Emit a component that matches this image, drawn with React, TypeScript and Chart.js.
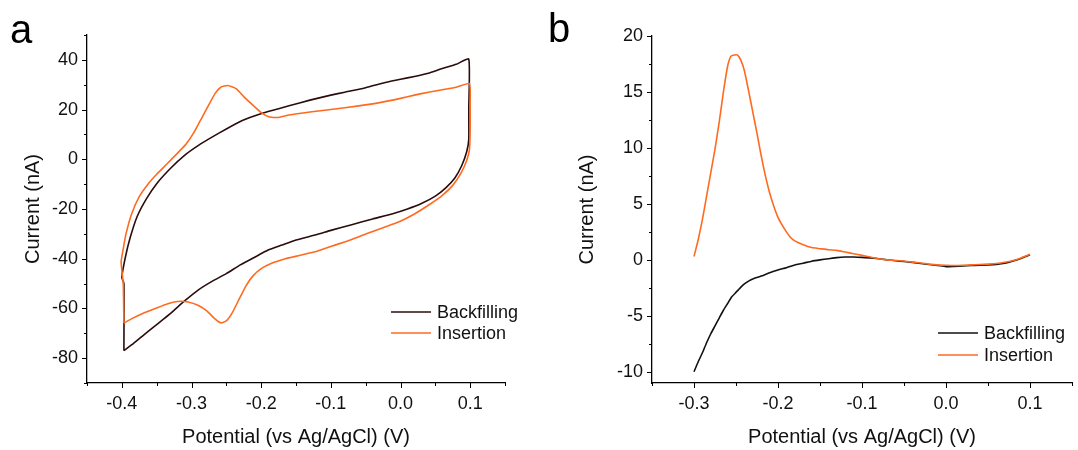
import React, { useEffect, useRef } from "react";
import { Chart, registerables } from "chart.js";

Chart.register(...registerables);

const FONT = '"Liberation Sans", Arial, Helvetica, sans-serif';
const BLACK_A = "#2a0c0c";
const BLACK_B = "#111111";
const ORANGE = "#ff6a1f";

// ---------- Panel a: cyclic voltammograms ----------
const potentialBackfillingA = [
  -0.397, -0.385, -0.37, -0.35, -0.33, -0.31, -0.29, -0.27, -0.25, -0.23, -0.21, -0.19, -0.17, -0.15,
  -0.12, -0.1, -0.07, -0.04, -0.01, 0.01, 0.03, 0.05, 0.065, 0.078, 0.088, 0.095, 0.098, 0.098, 0.098,
  0.08, 0.06, 0.04, 0.02, 0.0, -0.02, -0.05, -0.08, -0.1, -0.13, -0.16, -0.19, -0.21, -0.23, -0.25,
  -0.27, -0.29, -0.31, -0.33, -0.35, -0.365, -0.378, -0.388, -0.395, -0.4, -0.397, -0.397,
];
const currentBackfillingA = [
  -77, -74.5, -71, -66.5, -62, -57, -52.5, -49, -46, -42.5, -39.5, -36.5, -34.5, -32.5,
  -30.3, -28.6, -26.3, -24, -21.8, -20, -17.8, -14.8, -11.5, -7.5, -2.5, 3, 8, 20, 40.3,
  38.2, 36.5, 34.6, 33.3, 32.2, 31, 28.8, 27, 25.8, 23.8, 21.5, 19.2, 17.4, 15.2, 12.2,
  9, 5.6, 1.6, -3.6, -9.8, -16, -23, -31.5, -39.5, -47.5, -50, -77,
];
const potentialInsertionA = [
  -0.397, -0.385, -0.37, -0.35, -0.335, -0.32, -0.305, -0.29, -0.278, -0.268, -0.258, -0.25, -0.242,
  -0.232, -0.222, -0.212, -0.2, -0.185, -0.165, -0.145, -0.12, -0.097, -0.07, -0.049, -0.025, -0.001,
  0.02, 0.04, 0.06, 0.075, 0.087, 0.095, 0.099, 0.1, 0.1, 0.099,
  0.08, 0.06, 0.04, 0.02, 0.0, -0.03, -0.06, -0.1, -0.13, -0.16, -0.175, -0.188, -0.2, -0.212, -0.225,
  -0.236, -0.248, -0.258, -0.266, -0.275, -0.285, -0.296, -0.308, -0.32, -0.335, -0.35, -0.362, -0.375,
  -0.386, -0.394, -0.398, -0.401, -0.398, -0.397,
];
const currentInsertionA = [
  -65.9, -64, -62, -59.8, -58.2, -57.2, -57.4, -58.8, -61, -63.8, -65.8, -65, -62,
  -56.5, -51, -47, -44, -41.8, -40, -38.7, -37, -34.8, -32.3, -30, -27.5, -25,
  -22, -18.5, -14.5, -10.5, -5.5, -0.5, 4, 12, 22, 30.5,
  29, 28, 27, 25.8, 24.5, 22.8, 21.5, 20, 19, 17.8, 16.8, 17, 18.8, 21.8, 25.2,
  28.4, 29.7, 29, 26.5, 22, 16.8, 11, 6, 2.5, -1.8, -6, -9.8, -15,
  -22, -30, -36, -41.3, -50, -65.9,
];
const xMajorA = [-0.4, -0.3, -0.2, -0.1, 0.0, 0.1];
const xMinorA = [-0.45, -0.35, -0.25, -0.15, -0.05, 0.05, 0.15];
const yMajorA = [-80, -60, -40, -20, 0, 20, 40];
const yMinorA = [-90, -70, -50, -30, -10, 10, 30, 50];

// ---------- Panel b: differential curves ----------
const potentialBackfillingB = [
  -0.3, -0.295, -0.29, -0.285, -0.28, -0.275, -0.27, -0.265, -0.26, -0.255, -0.25, -0.245, -0.24, -0.235,
  -0.23, -0.22, -0.21, -0.2, -0.19, -0.18, -0.17, -0.16, -0.15, -0.14, -0.13, -0.12, -0.11, -0.1, -0.09,
  -0.08, -0.07, -0.06, -0.05, -0.04, -0.03, -0.02, -0.01, 0.0, 0.01, 0.02, 0.03, 0.04, 0.05, 0.06, 0.07,
  0.08, 0.09, 0.1,
];
const currentBackfillingB = [
  -10, -9.1, -8.3, -7.4, -6.6, -5.9, -5.2, -4.5, -3.9, -3.3, -2.9, -2.5, -2.15, -1.9,
  -1.7, -1.45, -1.15, -0.9, -0.7, -0.45, -0.3, -0.12, 0.0, 0.1, 0.2, 0.25, 0.25, 0.22, 0.18,
  0.1, 0.0, -0.08, -0.15, -0.22, -0.32, -0.42, -0.5, -0.6, -0.58, -0.55, -0.5, -0.48, -0.45, -0.4, -0.3,
  -0.1, 0.15, 0.45,
];
const potentialInsertionB = [
  -0.3, -0.295, -0.29, -0.285, -0.28, -0.275, -0.27, -0.265, -0.26, -0.256, -0.252, -0.248, -0.244, -0.24,
  -0.235, -0.23, -0.225, -0.22, -0.215, -0.21, -0.205, -0.2, -0.195, -0.19, -0.185, -0.18, -0.17, -0.16,
  -0.15, -0.14, -0.13, -0.12, -0.11, -0.1, -0.09, -0.08, -0.07, -0.06, -0.05, -0.04, -0.03, -0.02, -0.01,
  0.0, 0.01, 0.02, 0.03, 0.04, 0.05, 0.06, 0.07, 0.08, 0.09, 0.1,
];
const currentInsertionB = [
  0.3, 1.8, 3.6, 5.7, 7.8, 9.9, 12.3, 15.0, 17.3, 18.2, 18.3, 18.3, 17.8, 16.9,
  15.1, 13.2, 11.3, 9.3, 7.5, 6.0, 4.8, 3.8, 3.1, 2.5, 2.0, 1.7, 1.35, 1.1,
  1.0, 0.9, 0.85, 0.7, 0.55, 0.4, 0.25, 0.1, 0.0, -0.05, -0.1, -0.2, -0.28, -0.38, -0.45,
  -0.48, -0.5, -0.48, -0.45, -0.42, -0.38, -0.33, -0.22, -0.05, 0.2, 0.5,
];
const xMajorB = [-0.3, -0.2, -0.1, 0.0, 0.1];
const xMinorB = [-0.35, -0.25, -0.15, -0.05, 0.05, 0.15];
const yMajorB = [-10, -5, 0, 5, 10, 15, 20];
const yMinorB = [-7.5, -2.5, 2.5, 7.5, 12.5, 17.5];

const seriesNames = ["Backfilling", "Insertion"];
const xTitle = "Potential (vs Ag/AgCl) (V)";
const yTitle = "Current (nA)";

const toPoints = (xs: number[], ys: number[]) => xs.map((x, i) => ({ x, y: ys[i] }));

const axisPlugin = {
  id: "axisDecor",
  afterDraw(chart: any, _args: any, opts: any) {
    const ctx = chart.ctx;
    const xs = chart.scales.x;
    const ys = chart.scales.y;
    const area = chart.chartArea;
    ctx.save();
    ctx.strokeStyle = "#000";
    ctx.lineWidth = 1;
    const tickX = (vals: number[], len: number) => {
      vals.forEach((v) => {
        const px = Math.round(xs.getPixelForValue(v)) + 0.5;
        ctx.beginPath();
        ctx.moveTo(px, area.bottom);
        ctx.lineTo(px, area.bottom + len);
        ctx.stroke();
      });
    };
    const tickY = (vals: number[], len: number) => {
      vals.forEach((v) => {
        const py = Math.round(ys.getPixelForValue(v)) + 0.5;
        ctx.beginPath();
        ctx.moveTo(area.left, py);
        ctx.lineTo(area.left - len, py);
        ctx.stroke();
      });
    };
    tickX(opts.xMajor, 5);
    tickX(opts.xMinor, 3);
    tickY(opts.yMajor, 5);
    tickY(opts.yMinor, 3);

    // legend
    const lg = opts.legend;
    ctx.font = `18px ${FONT}`;
    ctx.textBaseline = "middle";
    ctx.textAlign = "left";
    lg.colors.forEach((c: string, i: number) => {
      const y = area.top + lg.top + i * lg.gap;
      ctx.strokeStyle = c;
      ctx.lineWidth = 1.6;
      ctx.beginPath();
      ctx.moveTo(area.left + lg.left, y);
      ctx.lineTo(area.left + lg.left + lg.lineLen, y);
      ctx.stroke();
      ctx.fillStyle = "#111";
      ctx.fillText(seriesNames[i], area.left + lg.left + lg.lineLen + 6, y + 1);
    });
    ctx.restore();
  },
};

type Spec = {
  left: number;
  width: number;
  padRight: number;
  yWidth: number;
  top: number;
  xMin: number;
  xMax: number;
  yMin: number;
  yMax: number;
  xMajor: number[];
  xMinor: number[];
  yMajor: number[];
  yMinor: number[];
  back: { x: number; y: number }[];
  ins: { x: number; y: number }[];
  backColor: string;
  yTitlePad: number;
  legend: any;
};

function Panel({ spec }: { spec: Spec }) {
  const ref = useRef<HTMLCanvasElement>(null);
  useEffect(() => {
    const chart = new Chart(ref.current as HTMLCanvasElement, {
      type: "scatter",
      data: {
        datasets: [
          {
            label: seriesNames[1],
            data: spec.ins,
            showLine: true,
            borderColor: ORANGE,
            backgroundColor: ORANGE,
            borderWidth: 1.6,
            pointRadius: 0,
            tension: 0.15,
            order: 0,
          },
          {
            label: seriesNames[0],
            data: spec.back,
            showLine: true,
            borderColor: spec.backColor,
            backgroundColor: spec.backColor,
            borderWidth: 1.6,
            pointRadius: 0,
            tension: 0.15,
            order: 1,
          },
        ],
      },
      options: {
        responsive: false,
        animation: false,
        maintainAspectRatio: false,
        layout: { padding: { top: spec.top, right: spec.padRight, left: 0, bottom: 0 } },
        plugins: {
          legend: { display: false },
          tooltip: { enabled: false },
          axisDecor: {
            xMajor: spec.xMajor,
            xMinor: spec.xMinor,
            yMajor: spec.yMajor,
            yMinor: spec.yMinor,
            legend: spec.legend,
          },
        } as any,
        scales: {
          x: {
            type: "linear",
            min: spec.xMin,
            max: spec.xMax,
            afterBuildTicks: (s: any) => {
              s.ticks = spec.xMajor.map((v) => ({ value: v }));
            },
            afterFit: (s: any) => {
              s.height = 450 - 383;
            },
            grid: { display: true, drawOnChartArea: false, drawTicks: false },
            border: { display: true, color: "#000", width: 1.3 },
            ticks: {
              color: "#111",
              font: { family: FONT, size: 18 },
              padding: 10,
              maxRotation: 0,
              callback: (v: any) => Number(v).toFixed(1),
            },
            title: {
              display: true,
              text: xTitle,
              color: "#111",
              font: { family: FONT, size: 20 },
              padding: { top: 0, bottom: 1 },
            },
          },
          y: {
            type: "linear",
            min: spec.yMin,
            max: spec.yMax,
            afterBuildTicks: (s: any) => {
              s.ticks = spec.yMajor.map((v) => ({ value: v }));
            },
            afterFit: (s: any) => {
              s.width = spec.yWidth;
            },
            grid: { display: true, drawOnChartArea: false, drawTicks: false },
            border: { display: true, color: "#000", width: 1.3 },
            ticks: {
              color: "#111",
              font: { family: FONT, size: 18 },
              padding: 9,
              callback: (v: any) => String(v),
            },
            title: {
              display: true,
              text: yTitle,
              color: "#111",
              font: { family: FONT, size: 20 },
              padding: { top: spec.yTitlePad, bottom: 0 },
            },
          },
        },
      },
      plugins: [axisPlugin],
    } as any);
    return () => chart.destroy();
  }, []);
  return (
    <canvas
      ref={ref}
      width={spec.width}
      height={450}
      style={{ position: "absolute", left: spec.left, top: 0, width: spec.width, height: 450 }}
    />
  );
}

const specA: Spec = {
  left: 0,
  width: 540,
  padRight: 35,
  yWidth: 87,
  top: 35,
  xMin: -0.45,
  xMax: 0.15,
  yMin: -90,
  yMax: 50,
  xMajor: xMajorA,
  xMinor: xMinorA,
  yMajor: yMajorA,
  yMinor: yMinorA,
  back: toPoints(potentialBackfillingA, currentBackfillingA),
  ins: toPoints(potentialInsertionA, currentInsertionA),
  backColor: BLACK_A,
  yTitlePad: 21,
  legend: { left: 304, top: 277, gap: 21, lineLen: 40, colors: [BLACK_A, ORANGE] },
};

const specB: Spec = {
  left: 540,
  width: 538,
  padRight: 6,
  yWidth: 112,
  top: 36,
  xMin: -0.35,
  xMax: 0.15,
  yMin: -11,
  yMax: 20,
  xMajor: xMajorB,
  xMinor: xMinorB,
  yMajor: yMajorB,
  yMinor: yMinorB,
  back: toPoints(potentialBackfillingB, currentBackfillingB),
  ins: toPoints(potentialInsertionB, currentInsertionB),
  backColor: BLACK_B,
  yTitlePad: 35,
  legend: { left: 286, top: 297, gap: 22, lineLen: 40, colors: [BLACK_B, ORANGE] },
};

export default function App() {
  const label: React.CSSProperties = {
    position: "absolute",
    fontFamily: FONT,
    fontSize: 40,
    lineHeight: "40px",
    color: "#000",
  };
  return (
    <div style={{ position: "absolute", left: 0, top: 0, width: 1078, height: 450, background: "#fff" }}>
      <Panel spec={specA} />
      <Panel spec={specB} />
      <div style={{ ...label, left: 10, top: 9 }}>a</div>
      <div style={{ ...label, left: 548, top: 8 }}>b</div>
    </div>
  );
}
